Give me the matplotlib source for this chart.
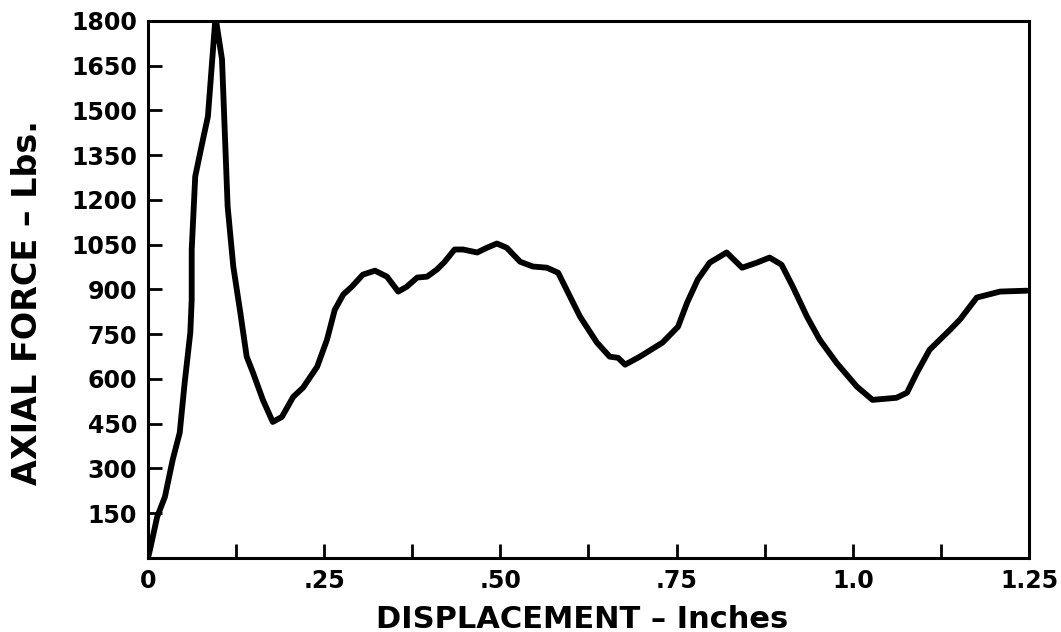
import matplotlib
matplotlib.use("Agg")
import matplotlib.pyplot as plt
import numpy as np

# Data (displacement in inches, axial force in lbs)
displacement = [0.000, 0.003, 0.013, 0.024, 0.035, 0.045, 0.052, 0.060, 0.062, 0.062,
                0.067, 0.078, 0.085, 0.095, 0.097, 0.105, 0.113, 0.121, 0.131, 0.140,
                0.149, 0.163, 0.177, 0.190, 0.206, 0.220, 0.240, 0.254, 0.265, 0.277,
                0.289, 0.305, 0.322, 0.339, 0.355, 0.367, 0.382, 0.396, 0.410, 0.421,
                0.435, 0.447, 0.467, 0.481, 0.495, 0.509, 0.528, 0.546, 0.566, 0.582,
                0.594, 0.613, 0.637, 0.655, 0.667, 0.677, 0.698, 0.730, 0.752, 0.765,
                0.780, 0.797, 0.821, 0.843, 0.864, 0.882, 0.899, 0.915, 0.935, 0.953,
                0.977, 1.006, 1.028, 1.062, 1.077, 1.091, 1.109, 1.138, 1.152, 1.176,
                1.209, 1.247]
axial_force = [0, 30, 138, 205, 329, 420, 587, 755, 866, 1034,
               1279, 1403, 1480, 1790, 1795, 1671, 1178, 977, 822, 675,
               621, 530, 456, 473, 540, 571, 641, 732, 832, 883,
               909, 950, 963, 943, 893, 909, 940, 943, 967, 993,
               1034, 1034, 1024, 1040, 1054, 1040, 993, 977, 973, 956,
               899, 809, 722, 675, 671, 648, 675, 722, 775, 856,
               933, 990, 1024, 973, 990, 1007, 983, 909, 809, 732,
               654, 574, 530, 537, 554, 621, 698, 765, 799, 873,
               893, 896]

x_tick_positions = [0, 0.125, 0.25, 0.375, 0.5, 0.625, 0.75, 0.875, 1.0, 1.125, 1.25]
x_tick_labels = ["0", "", ".25", "", ".50", "", ".75", "", "1.0", "", "1.25"]
y_tick_positions = [150, 300, 450, 600, 750, 900, 1050, 1200, 1350, 1500, 1650, 1800]
y_tick_labels = ["150", "300", "450", "600", "750", "900", "1050", "1200", "1350", "1500", "1650", "1800"]

fig = plt.figure(figsize=(10.61, 6.32), dpi=100)
ax = fig.add_axes([0.1395, 0.1171, 0.8303, 0.8497])

ax.plot(displacement, axial_force, color="black", linewidth=4.2,
        solid_capstyle="round", solid_joinstyle="round", clip_on=True)

ax.set_xlim(0, 1.25)
ax.set_ylim(0, 1800)

ax.set_xticks(x_tick_positions)
ax.set_xticklabels(x_tick_labels)
ax.set_yticks(y_tick_positions)
ax.set_yticklabels(y_tick_labels)

for s in ax.spines.values():
    s.set_linewidth(2.2)
    s.set_color("black")

ax.tick_params(axis="both", direction="in", length=10, width=2, color="black",
               labelsize=17, pad=8)
for lab in ax.get_xticklabels() + ax.get_yticklabels():
    lab.set_fontweight("bold")

fig.text(582 / 1061, 4 / 632, "DISPLACEMENT – Inches", fontsize=22,
         fontweight="bold", ha="center", va="baseline")
fig.text(28 / 1061, 1 - 303 / 632, "AXIAL FORCE – Lbs.", fontsize=24,
         fontweight="bold", ha="center", va="center", rotation=90)

fig.savefig("out.png", dpi=100)
